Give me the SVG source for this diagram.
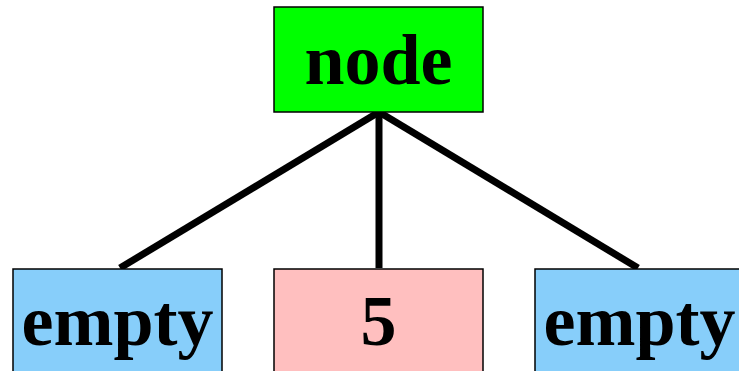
<svg xmlns="http://www.w3.org/2000/svg" width="739" height="371" viewBox="0 0 739 371">
<style>
.box{stroke:#000;stroke-width:1.5}
.lbl{font-family:"Liberation Serif","Times New Roman",serif;font-weight:bold;font-size:72px;text-anchor:middle;fill:#000}
.edge{stroke:#000;stroke-width:7;stroke-linecap:butt;fill:none}
</style>
<rect width="739" height="371" fill="#fff"/>
<g id="connectors">
<line class="edge" x1="379" y1="112" x2="120" y2="268"/>
<line class="edge" x1="379" y1="112" x2="379" y2="268"/>
<line class="edge" x1="379" y1="112" x2="638" y2="268"/>
</g>
<g id="node-root">
<rect class="box" x="274" y="7" width="209" height="105" fill="#00ff00"/>
<text class="lbl" x="378.5" y="84">node</text>
</g>
<g id="node-left">
<rect class="box" x="13" y="269" width="209" height="110" fill="#87cefa"/>
<text class="lbl" x="117.5" y="345">empty</text>
</g>
<g id="node-mid">
<rect class="box" x="274" y="269" width="209" height="110" fill="#ffbfbf"/>
<text class="lbl" x="378.5" y="345">5</text>
</g>
<g id="node-right">
<rect class="box" x="535" y="269" width="209" height="110" fill="#87cefa"/>
<text class="lbl" x="639.5" y="345">empty</text>
</g>
</svg>
